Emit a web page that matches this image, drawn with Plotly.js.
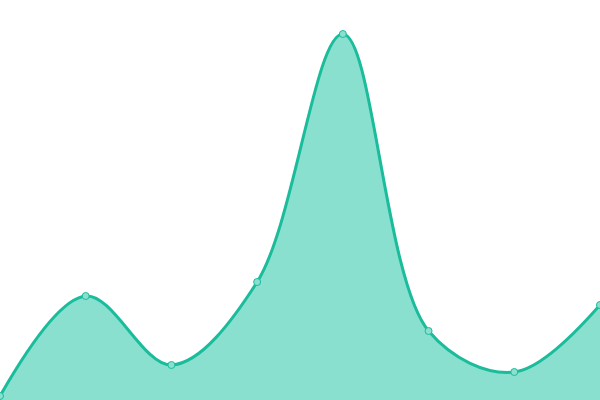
<!DOCTYPE html>
<html>
<head>
<meta charset="utf-8">
<script src="https://cdn.plot.ly/plotly-3.0.1.min.js"></script>
<style>html,body{margin:0;padding:0;background:#fff;}#chart{width:600px;height:400px;}</style>
</head>
<body>
<div id="chart"></div>
<script>
const categories = [0, 1, 2, 3, 4, 5, 6, 7];
const values = [4, 104, 35, 118, 366, 69, 28, 95];

const trace = {
  x: categories,
  y: values,
  type: 'scatter',
  mode: 'lines+markers',
  fill: 'tozeroy',
  fillcolor: '#89e0cf',
  line: {color: '#1abc9c', width: 3, shape: 'spline', smoothing: 1},
  marker: {size: 7, color: '#89e0cf', line: {color: '#1abc9c', width: 1}},
  hoverinfo: 'none'
};

const layout = {
  width: 600, height: 400,
  margin: {l: 0, r: 0, t: 0, b: 0},
  paper_bgcolor: '#fff', plot_bgcolor: '#fff',
  showlegend: false,
  xaxis: {range: [0, 7], visible: false, fixedrange: true},
  yaxis: {range: [0, 400], visible: false, fixedrange: true}
};

Plotly.newPlot('chart', [trace], layout, {displayModeBar: false, staticPlot: true});
</script>
</body>
</html>
